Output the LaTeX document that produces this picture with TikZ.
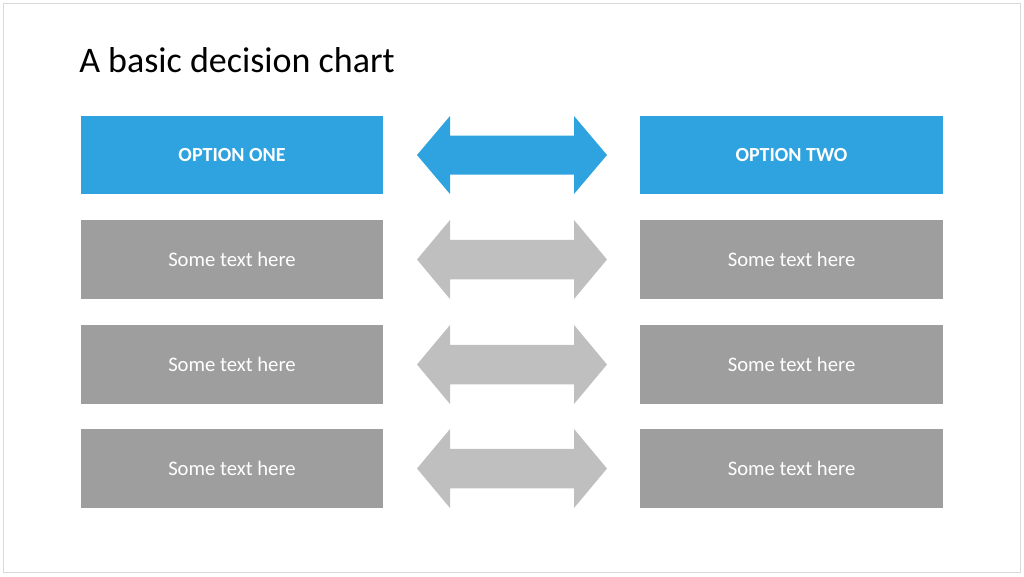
\documentclass[tikz,border=0pt]{standalone}
\usepackage{fontspec}
\setmainfont{Carlito}
\definecolor{bluebox}{HTML}{2EA3DF}
\definecolor{graybox}{HTML}{9E9E9E}
\definecolor{grayarrow}{HTML}{BFBFBF}
\definecolor{frame}{HTML}{D9D9D9}
\begin{document}
\begin{tikzpicture}[x=0.75pt,y=-0.75pt,
  box/.style={fill=graybox,draw=none,text=white,font=\fontsize{15.5}{18}\selectfont},
  head/.style={fill=bluebox,draw=none,text=white,font=\fontsize{15}{18}\selectfont\bfseries},
  dbl/.style={fill=grayarrow,draw=none}]
\useasboundingbox (0,0) rectangle (1024,576);
\draw[frame,line width=0.75pt] (3,3) rectangle (1020,572);
\node[anchor=base west,inner sep=0,font=\fontsize{27}{32}\selectfont] (title) at (79,72) {A basic decision chart};
\foreach \t/\b/\n in {116/194/1,220/299/2,325/404/3,429/508/4}{
  \pgfmathsetmacro\m{(\t+\b)/2}
  \pgfmathsetmacro\h{(\b-\t)/4}
  \ifnum\n=1
    \node[head,minimum width=302*0.75pt,minimum height=(\b-\t)*0.75pt] (L\n) at (232,\m) {OPTION ONE};
    \node[head,minimum width=303*0.75pt,minimum height=(\b-\t)*0.75pt] (R\n) at (791.5,\m) {OPTION TWO};
    \fill[bluebox] (417,\m) -- (450,\t) -- (450,\m-\h) -- (574,\m-\h) -- (574,\t) -- (607,\m) -- (574,\b) -- (574,\m+\h) -- (450,\m+\h) -- (450,\b) -- cycle;
  \else
    \node[box,minimum width=302*0.75pt,minimum height=(\b-\t)*0.75pt] (L\n) at (232,\m) {Some text here};
    \node[box,minimum width=303*0.75pt,minimum height=(\b-\t)*0.75pt] (R\n) at (791.5,\m) {Some text here};
    \fill[grayarrow] (417,\m) -- (450,\t) -- (450,\m-\h) -- (574,\m-\h) -- (574,\t) -- (607,\m) -- (574,\b) -- (574,\m+\h) -- (450,\m+\h) -- (450,\b) -- cycle;
  \fi
}
\end{tikzpicture}
\end{document}
